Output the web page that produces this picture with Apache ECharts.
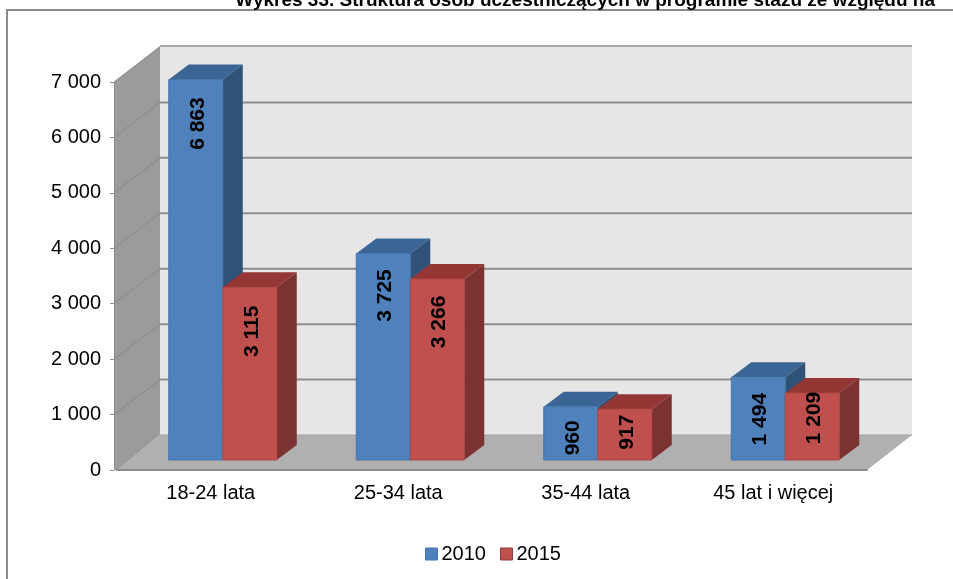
<!DOCTYPE html>
<html>
<head>
<meta charset="utf-8">
<style>
  html, body { margin: 0; padding: 0; background: #fff; overflow: hidden; }
  #chart01 { width: 953px; height: 579px; }
</style>
<script src="https://cdn.jsdelivr.net/npm/echarts@6/dist/echarts.min.js"></script>
</head>
<body>
<div id="chart01"></div>
<script>
var categories = ['18-24 lata', '25-34 lata', '35-44 lata', '45 lat i więcej'];
var yTicks = [1000, 2000, 3000, 4000, 5000, 6000, 7000];
var values2010 = [6863, 3725, 960, 1494];
var values2015 = [3115, 3266, 917, 1209];

// how far the rotated label centre sits below the bar top, in px
var labelGap2010 = [44, 42, 31, 42];
var labelGap2015 = [44, 43, 23, 25];

var font = '"Liberation Sans", Arial, sans-serif';
var wallDx = 43, wallDy = -35;
var depthDx = 20, depthDy = -15;
var barLift = 10, barShift = 12, barWidth = 54;

function fmt(v) {
  var s = String(v);
  return s.length > 3 ? s.slice(0, -3) + ' ' + s.slice(-3) : s;
}

function poly(points, fill) {
  return { type: 'polygon', shape: { points: points }, style: { fill: fill } };
}

function line(x1, y1, x2, y2, color, width) {
  return {
    type: 'line',
    shape: { x1: x1, y1: y1, x2: x2, y2: y2 },
    style: { stroke: color, lineWidth: width }
  };
}

// side wall, back wall and floor, hung off the axis scale
function renderWalls(params, api) {
  var o = api.coord([0, 0]);
  var top = api.coord([0, 7000])[1];
  var left = params.coordSys.x;
  var right = left + params.coordSys.width;
  var y0 = o[1];
  return {
    type: 'group',
    children: [
      poly([[left + wallDx, top + wallDy - 1], [right + wallDx + 2, top + wallDy - 1], [right + wallDx + 2, y0 + wallDy], [left + wallDx, y0 + wallDy]], '#e6e6e6'),
      poly([[left - 3, top], [left + wallDx, top + wallDy - 1], [left + wallDx, y0 + wallDy], [left + 1, y0], [left - 3, y0]], '#9b9b9b'),
      poly([[left + 1, y0], [left + wallDx, y0 + wallDy], [right + wallDx + 2, y0 + wallDy], [right, y0]], '#b0b0b0'),
      line(left + wallDx, top + wallDy - 1, right + wallDx + 2, top + wallDy - 1, '#a8a8a8', 2),
      line(left + wallDx, y0 + wallDy, right + wallDx + 2, y0 + wallDy, '#a2a2a2', 1)
    ]
  };
}

function renderGrid(params, api) {
  var y = api.coord([0, api.value(0)])[1];
  var left = params.coordSys.x;
  var right = left + params.coordSys.width;
  var back = api.value(0) < 7000
    ? [line(left + wallDx, y + wallDy, right + wallDx + 2, y + wallDy, '#8e8e8e', 2)]
    : [];
  return {
    type: 'group',
    children: back.concat([line(left - 3, y, left + wallDx, y + wallDy, '#8a8a8a', 1)])
  };
}

function renderBar(colors, gaps, side) {
  return function (params, api) {
    var i = api.value(0), v = api.value(1);
    var p = api.coord([i, v]);
    var y0 = api.coord([i, 0])[1] - barLift;
    var yt = p[1] - barLift;
    var x1 = p[0] + barShift + (side < 0 ? -barWidth : 0);
    var x2 = x1 + barWidth;
    return {
      type: 'group',
      children: [
        poly([[x1, yt], [x1 + depthDx, yt + depthDy], [x2 + depthDx, yt + depthDy], [x2, yt]], colors.top),
        poly([[x2, yt], [x2 + depthDx, yt + depthDy], [x2 + depthDx, y0 + depthDy], [x2, y0]], colors.side),
        {
          type: 'rect',
          shape: { x: x1, y: yt, width: barWidth, height: y0 - yt },
          style: { fill: colors.front, stroke: colors.edge, lineWidth: 1 }
        },
        {
          type: 'text',
          x: (x1 + x2) / 2 + 2,
          y: yt + gaps[i],
          rotation: Math.PI / 2,
          style: {
            text: fmt(v),
            x: 0,
            y: 0,
            align: 'center',
            verticalAlign: 'middle',
            fill: '#000',
            font: 'bold 21px ' + font
          }
        }
      ]
    };
  };
}

var blue = { front: '#4f81bd', top: '#3b6595', side: '#305279', edge: '#4474ad' };
var red = { front: '#c0504d', top: '#943634', side: '#7c3230', edge: '#b04744' };

var chart01 = echarts.init(document.getElementById('chart01'));
var option_c01 = {
  animation: false,
  backgroundColor: '#fff',
  title: {
    text: 'Wykres 33. Struktura osób uczestniczących w programie stażu ze względu na',
    right: 13,
    top: -14,
    textStyle: { fontFamily: font, fontSize: 19, fontWeight: 'bold', color: '#000' }
  },
  graphic: [
    {
      type: 'polyline',
      shape: { points: [[7, 579], [7, 10], [953, 10]] },
      style: { stroke: '#8a8a8a', lineWidth: 2, fill: 'none' }
    }
  ],
  legend: {
    data: [
      { name: '2010', itemStyle: { color: blue.front, borderColor: blue.edge, borderWidth: 1 } },
      { name: '2015', itemStyle: { color: red.front, borderColor: '#8f3d3a', borderWidth: 1 } }
    ],
    left: 420,
    top: 539,
    itemWidth: 12,
    itemHeight: 12,
    itemGap: 14,
    icon: 'rect',
    textStyle: { fontFamily: font, fontSize: 20, color: '#000', padding: [0, 0, 0, -1] }
  },
  grid: { left: 117, right: 86, top: 82, bottom: 109 },
  xAxis: {
    type: 'category',
    data: categories,
    axisLine: { lineStyle: { color: '#8c8c8c', width: 2 } },
    axisTick: { alignWithLabel: false, length: 8, lineStyle: { color: '#8c8c8c' } },
    axisLabel: { fontFamily: font, fontSize: 20, color: '#000', margin: 13 },
    z: 5
  },
  yAxis: {
    type: 'value',
    min: 0,
    max: 7000,
    interval: 1000,
    offset: 3,
    splitLine: { show: false },
    axisLine: { show: true, lineStyle: { color: '#8c8c8c', width: 1 } },
    axisTick: { show: true, length: 4, lineStyle: { color: '#8c8c8c' } },
    axisLabel: { fontFamily: font, fontSize: 20, color: '#000', margin: 13, formatter: fmt },
    z: 5
  },
  series: [
    { type: 'custom', name: 'walls', data: [[0]], renderItem: renderWalls, silent: true, z: 1, clip: false },
    { type: 'custom', name: 'grid', data: yTicks.map(function (t) { return [t]; }), encode: { y: 0 }, renderItem: renderGrid, silent: true, z: 2, clip: false },
    {
      type: 'custom',
      name: '2010',
      data: values2010.map(function (v, i) { return [i, v]; }),
      encode: { x: 0, y: 1 },
      itemStyle: { color: blue.front },
      renderItem: renderBar(blue, labelGap2010, -1),
      z: 3,
      clip: false
    },
    {
      type: 'custom',
      name: '2015',
      data: values2015.map(function (v, i) { return [i, v]; }),
      encode: { x: 0, y: 1 },
      itemStyle: { color: red.front },
      renderItem: renderBar(red, labelGap2015, 1),
      z: 4,
      clip: false
    }
  ]
};

chart01.setOption(option_c01);
</script>
</body>
</html>
